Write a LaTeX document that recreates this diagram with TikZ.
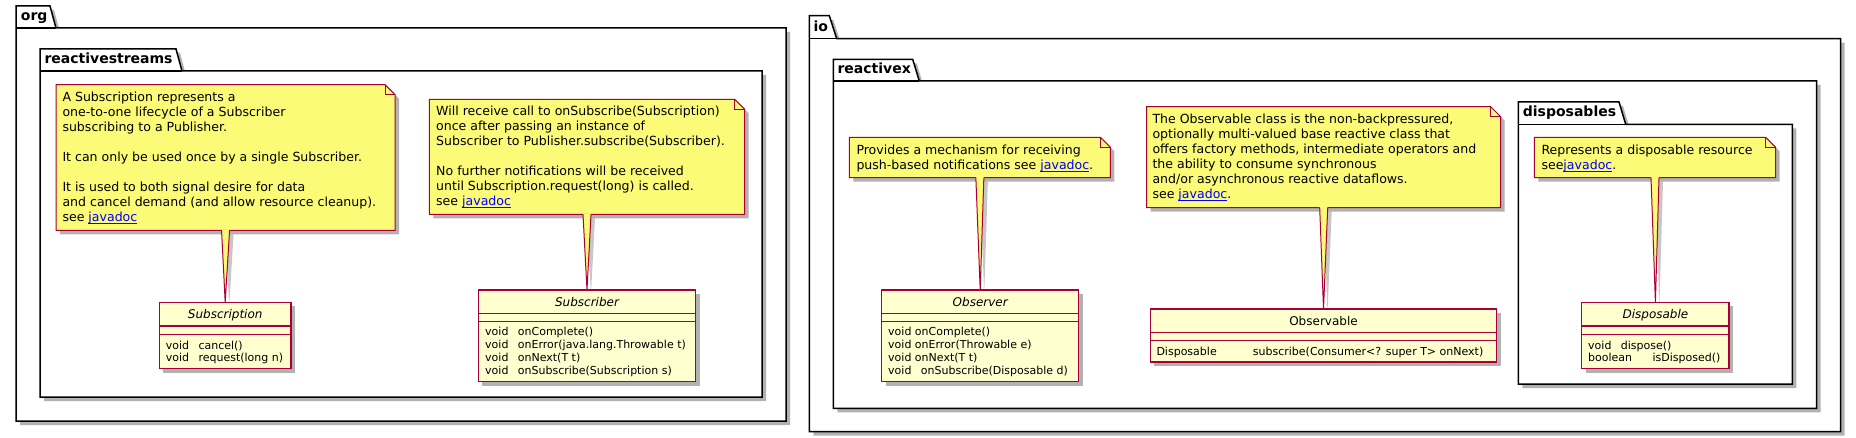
\documentclass[tikz,border=0pt]{standalone}
\usepackage{fontspec}
\setmainfont{DejaVu Sans}
\usetikzlibrary{shadows}
\definecolor{notefill}{HTML}{FBFB77}
\definecolor{umlred}{HTML}{A80036}
\definecolor{classfill}{HTML}{FEFECE}
\definecolor{linkblue}{HTML}{0000FF}
\newcommand{\jd}{{\color{linkblue}\setbox0\hbox{javadoc}\rlap{\rule[-2.3pt]{\wd0}{0.8pt}}\box0}}
\newcommand{\drawnote}[1]{%
  \path[notepath] (#1.north west) -- ([xshift=-10pt]#1.north east) -- ([yshift=-10pt]#1.north east) -- (#1.south east) -- (#1.south west) -- cycle;
  \draw[umlred,line width=1pt] ([xshift=-10pt]#1.north east) |- ([yshift=-10pt]#1.north east);}
\newcommand{\tailshadow}[2]{%
  \fill[black,opacity=0.22] ([xshift=0pt,yshift=-4pt]#1.south) -- ([xshift=4pt,yshift=-4pt]#2.north) -- ([xshift=8pt,yshift=-4pt]#1.south) -- cycle;}
\newcommand{\drawtail}[2]{%
  \fill[notefill] ([xshift=-4pt,yshift=0.8pt]#1.south) -- (#2.north) -- ([xshift=4pt,yshift=0.8pt]#1.south) -- cycle;
  \draw[umlred,line width=1pt] ([xshift=-4pt]#1.south) -- (#2.north) -- ([xshift=4pt]#1.south);}
\newcommand{\drawclass}[1]{%
  \path[classpath] (#1.north west) rectangle (#1.south east);}
\newcommand{\drawsep}[3]{%
  \draw[umlred,line width=1.5pt] ([yshift=-#2pt]#1.north west) -- ([yshift=-#2pt]#1.north east);
  \draw[umlred,line width=1.5pt] ([yshift=-#3pt]#1.north west) -- ([yshift=-#3pt]#1.north east);}
\tikzset{
  shad/.style={drop shadow={shadow xshift=4pt,shadow yshift=-4pt,opacity=0.3,fill=black}},
  pkg/.style={draw=black,fill=white,line width=1.5pt,shad},
  pkgline/.style={draw=black,line width=1.5pt},
  pkgtitle/.style={anchor=base west,inner sep=0pt,font=\fontsize{14}{16}\selectfont\bfseries},
  noteframe/.style={anchor=north west,inner sep=0pt,draw=none},
  notepath/.style={fill=notefill,draw=umlred,line width=1pt,shad},
  notetext/.style={anchor=base west,inner sep=0pt,font=\fontsize{12.55}{15}\selectfont},
  classframe/.style={anchor=north west,inner sep=0pt,draw=none},
  classpath/.style={draw=umlred,fill=classfill,line width=1.5pt,shad},
  ctitle/.style={anchor=base,inner sep=0pt,font=\fontsize{12}{14}\selectfont},
  cmem/.style={anchor=base west,inner sep=0pt,font=\fontsize{11}{13}\selectfont},
  cmemtight/.style={anchor=base west,inner sep=0pt,font=\fontsize{11}{11.3}\selectfont},
}
\begin{document}
\begin{tikzpicture}[x=1pt,y=-1pt]
\useasboundingbox (0,0) rectangle (1856,438);

% ---------------- packages ----------------
\path[pkg] (16,6) -- (50,6) -- (56,28) -- (786,28) -- (786,421) -- (16,421) -- cycle;
\draw[pkgline] (16,28) -- (56,28);
\node[pkgtitle] (torg) at (20.7,21) {org};

\path[pkg] (40,49) -- (176,49) -- (182,71) -- (762,71) -- (762,397) -- (40,397) -- cycle;
\draw[pkgline] (40,71) -- (182,71);
\node[pkgtitle] (trs) at (44.3,64) {reactivestreams};

\path[pkg] (809.3,15.7) -- (829.3,15.7) -- (836.7,38.7) -- (1840.7,38.7) -- (1840.7,431.7) -- (809.3,431.7) -- cycle;
\draw[pkgline] (809.3,38.7) -- (836.7,38.7);
\node[pkgtitle] (tio) at (813.3,31.7) {io};

\path[pkg] (833.3,59.3) -- (912.7,59.3) -- (919.3,81) -- (1816.7,81) -- (1816.7,408.3) -- (833.3,408.3) -- cycle;
\draw[pkgline] (833.3,81) -- (919.3,81);
\node[pkgtitle] (trx) at (837.3,74) {reactivex};

\path[pkg] (1518.3,102) -- (1619,102) -- (1625.7,124.3) -- (1792.3,124.3) -- (1792.3,384) -- (1518.3,384) -- cycle;
\draw[pkgline] (1518.3,124.3) -- (1625.7,124.3);
\node[pkgtitle] (tdisp) at (1522.7,117) {disposables};

% ---------------- notes (frames) ----------------
\node[noteframe,minimum width=338.7pt,minimum height=145.3pt] (n1) at (56,84.7) {};
\node[noteframe,minimum width=315pt,minimum height=114.7pt] (n2) at (429.3,99.3) {};
\node[noteframe,minimum width=260.7pt,minimum height=40pt] (n3) at (849.3,137.3) {};
\node[noteframe,minimum width=353.6pt,minimum height=100.6pt] (n4) at (1146.7,106.7) {};
\node[noteframe,minimum width=241pt,minimum height=40pt] (n5) at (1534.3,137.3) {};
\drawnote{n1}
\drawnote{n2}
\drawnote{n3}
\drawnote{n4}
\drawnote{n5}

\node[notetext] (n1t) at (62.3,101.7) {\begin{tabular}[t]{@{}l@{}}
A Subscription represents a\\
one-to-one lifecycle of a Subscriber\\
subscribing to a Publisher.\\
\\
It can only be used once by a single Subscriber.\\
\\
It is used to both signal desire for data\\
and cancel demand (and allow resource cleanup).\\
see \jd
\end{tabular}};

\node[notetext] (n2t) at (436,116) {\begin{tabular}[t]{@{}l@{}}
Will receive call to onSubscribe(Subscription)\\
once after passing an instance of\\
Subscriber to Publisher.subscribe(Subscriber).\\
\\
No further notifications will be received\\
until Subscription.request(long) is called.\\
see \jd
\end{tabular}};

\node[notetext] (n3t) at (856.3,154.3) {\begin{tabular}[t]{@{}l@{}}
Provides a mechanism for receiving\\
push-based notifications see \jd.
\end{tabular}};

\node[notetext] (n4t) at (1152.3,124) {\begin{tabular}[t]{@{}l@{}}
The Observable class is the non-backpressured,\\
optionally multi-valued base reactive class that\\
offers factory methods, intermediate operators and\\
the ability to consume synchronous\\
and/or asynchronous reactive dataflows.\\
see \jd.
\end{tabular}};

\node[notetext] (n5t) at (1541.3,154.3) {\begin{tabular}[t]{@{}l@{}}
Represents a disposable resource\\
see\jd.
\end{tabular}};

% ---------------- classes ----------------
\node[classframe,minimum width=131.4pt,minimum height=66pt] (c1) at (159.3,302.3) {};
\node[classframe,minimum width=217pt,minimum height=91.3pt] (c2) at (478.3,290) {};
\node[classframe,minimum width=196.6pt,minimum height=91.3pt] (c3) at (881.7,290) {};
\node[classframe,minimum width=346pt,minimum height=52.7pt] (c4) at (1150.3,309) {};
\node[classframe,minimum width=147pt,minimum height=66pt] (c5) at (1581.7,302.3) {};

\tailshadow{n1}{c1}
\tailshadow{n2}{c2}
\tailshadow{n3}{c3}
\tailshadow{n4}{c4}
\tailshadow{n5}{c5}

\drawclass{c1}
\drawclass{c2}
\drawclass{c3}
\drawclass{c4}
\drawclass{c5}

\drawtail{n1}{c1}
\drawtail{n2}{c2}
\drawtail{n3}{c3}
\drawtail{n4}{c4}
\drawtail{n5}{c5}

\drawsep{c1}{23.7}{32}
\drawsep{c2}{23.3}{31.7}
\drawsep{c3}{23.3}{31.7}
\drawsep{c4}{23.3}{31.7}
\drawsep{c5}{23.7}{32}

\node[ctitle] (c1t) at ([yshift=-16.5pt]c1.north) {\itshape Subscription};
\node[ctitle] (c2t) at ([yshift=-16.2pt]c2.north) {\itshape Subscriber};
\node[ctitle] (c3t) at ([yshift=-16.2pt]c3.north) {\itshape Observer};
\node[ctitle] (c4t) at ([yshift=-16.2pt]c4.north) {Observable};
\node[ctitle] (c5t) at ([yshift=-16.5pt]c5.north) {\itshape Disposable};

\node[cmemtight] (c1m) at (165.7,349.3) {\begin{tabular}[t]{@{}l@{}}
\makebox[32.6pt][l]{void}cancel()\\
\makebox[32.6pt][l]{void}request(long n)
\end{tabular}};

\node[cmem] (c2m) at (485,336) {\begin{tabular}[t]{@{}l@{}}
\makebox[32.7pt][l]{void}onComplete()\\
\makebox[32.7pt][l]{void}onError(java.lang.Throwable t)\\
\makebox[32.7pt][l]{void}onNext(T t)\\
\makebox[32.7pt][l]{void}onSubscribe(Subscription s)
\end{tabular}};

\node[cmem] (c3m) at (888,336) {\begin{tabular}[t]{@{}l@{}}
void onComplete()\\
void onError(Throwable e)\\
void onNext(T t)\\
\makebox[32.7pt][l]{void}onSubscribe(Disposable d)
\end{tabular}};

\node[cmem] (c4m) at (1156.3,355.3) {\begin{tabular}[t]{@{}l@{}}
\makebox[96.4pt][l]{Disposable}subscribe(Consumer<? super T> onNext)
\end{tabular}};

\node[cmemtight] (c5m) at (1588,349.3) {\begin{tabular}[t]{@{}l@{}}
\makebox[32.7pt][l]{void}dispose()\\
\makebox[64.3pt][l]{boolean}isDisposed()
\end{tabular}};
\end{tikzpicture}
\end{document}
